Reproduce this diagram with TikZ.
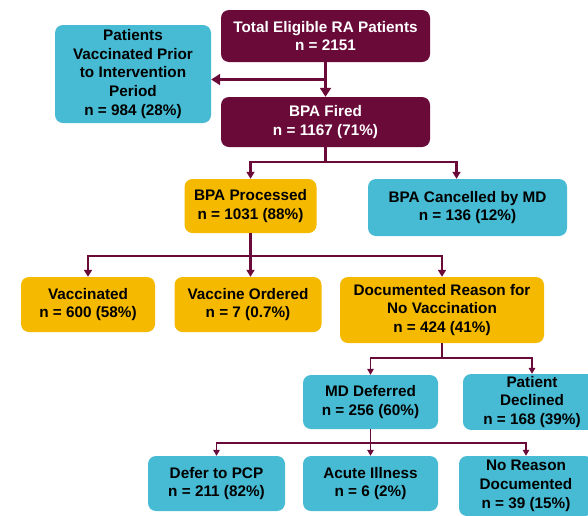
\documentclass[tikz,border=0pt]{standalone}
\usepackage{fontspec}
\setmainfont{Liberation Sans}
\usepackage{tikz}
\usetikzlibrary{arrows.meta}

\definecolor{wine}{RGB}{106,10,57}
\definecolor{sky}{RGB}{70,187,211}
\definecolor{amber}{RGB}{245,185,0}

\begin{document}
\begin{tikzpicture}[x=1pt,y=-1pt,
	box/.style={rounded corners=8pt, align=center, inner sep=2pt,
		font=\fontsize{15.3}{18.8}\selectfont\bfseries},
	wbox/.style={box, fill=wine, text=white},
	cbox/.style={box, fill=sky, text=black},
	ybox/.style={box, fill=amber, text=black},
	trunk/.style={draw=wine, line width=3pt},
	toparrow/.style={trunk, -{Triangle[width=11pt,length=9pt]}},
	stem/.style={draw=wine, line width=2.4pt},
	branch/.style={stem, -{Triangle[width=8pt,length=7pt]}},
	twigline/.style={draw=wine, line width=1.9pt},
	twig/.style={twigline, -{Triangle[width=6.5pt,length=6pt]}}]
	
	\useasboundingbox (0,0) rectangle (588,515);
	
	\node[wbox, minimum width=209pt, minimum height=52pt] (Total) at (325.5,36)
		{Total Eligible RA Patients\\n = 2151};
	\node[cbox, minimum width=156pt, minimum height=98pt] (Prior) at (133,74)
		{Patients\\Vaccinated Prior\\to Intervention\\Period\\n = 984 (28\%)};
	\node[wbox, minimum width=209pt, minimum height=50pt] (Fired) at (325.5,122)
		{BPA Fired\\n = 1167 (71\%)};
	
	\node[ybox, minimum width=132pt, minimum height=54pt] (Processed) at (250.5,206)
		{BPA Processed\\n = 1031 (88\%)};
	\node[cbox, minimum width=199pt, minimum height=57pt] (Cancelled) at (467.5,207.5)
		{BPA Cancelled by MD\\n = 136 (12\%)};
	
	\node[ybox, minimum width=134pt, minimum height=55pt] (Vaccinated) at (88,304.5)
		{Vaccinated\\n = 600 (58\%)};
	\node[ybox, minimum width=147pt, minimum height=55pt] (Ordered) at (248,304.5)
		{Vaccine Ordered\\n = 7 (0.7\%)};
	\node[ybox, minimum width=204pt, minimum height=66pt] (Reason) at (442,310)
		{Documented Reason for\\No Vaccination\\n = 424 (41\%)};
	
	\node[cbox, minimum width=135pt, minimum height=54pt] (Deferred) at (370.5,402)
		{MD Deferred\\n = 256 (60\%)};
	\node[cbox, minimum width=138pt, minimum height=54pt] (Declined) at (532,402)
		{Patient\\Declined\\n = 168 (39\%)};
	
	\node[cbox, minimum width=137pt, minimum height=55pt] (PCP) at (216.5,483.5)
		{Defer to PCP\\n = 211 (82\%)};
	\node[cbox, minimum width=135pt, minimum height=55pt] (Acute) at (370.5,483.5)
		{Acute Illness\\n = 6 (2\%)};
	\node[cbox, minimum width=134pt, minimum height=60pt] (NoReason) at (526,486)
		{No Reason\\Documented\\n = 39 (15\%)};
	
	\path (Total.south) -- (Fired.north) coordinate[midway] (Split);
	\draw[toparrow] (Total) -- (Fired);
	\draw[toparrow] (Split) -- (Split -| Prior.east);
	
	\draw[stem] (Fired.south) -- ++(0,15) coordinate (J1);
	\draw[branch] (J1) -| (Processed.north);
	\draw[branch] (J1) -| ([xshift=-11pt]Cancelled.north);
	
	\draw[stem] (Processed.south) -- ++(0,23) coordinate (J2);
	\draw[branch] (J2) -| (Vaccinated.north);
	\draw[branch] (J2) -- (J2 |- Ordered.north);
	\draw[branch] (J2) -| (Reason.north);
	
	\draw[twigline] (Reason.south) -- ++(0,15) coordinate (J3);
	\draw[twig] (J3) -| (Deferred.north);
	\draw[twig] (J3) -| (Declined.north);
	
	\draw[twigline] (Deferred.south) -- ++(0,14) coordinate (J4);
	\draw[twig] (J4) -| (PCP.north);
	\draw[twig] (J4) -- (Acute.north);
	\draw[twig] (J4) -| (NoReason.north);
	
\end{tikzpicture}
\end{document}
